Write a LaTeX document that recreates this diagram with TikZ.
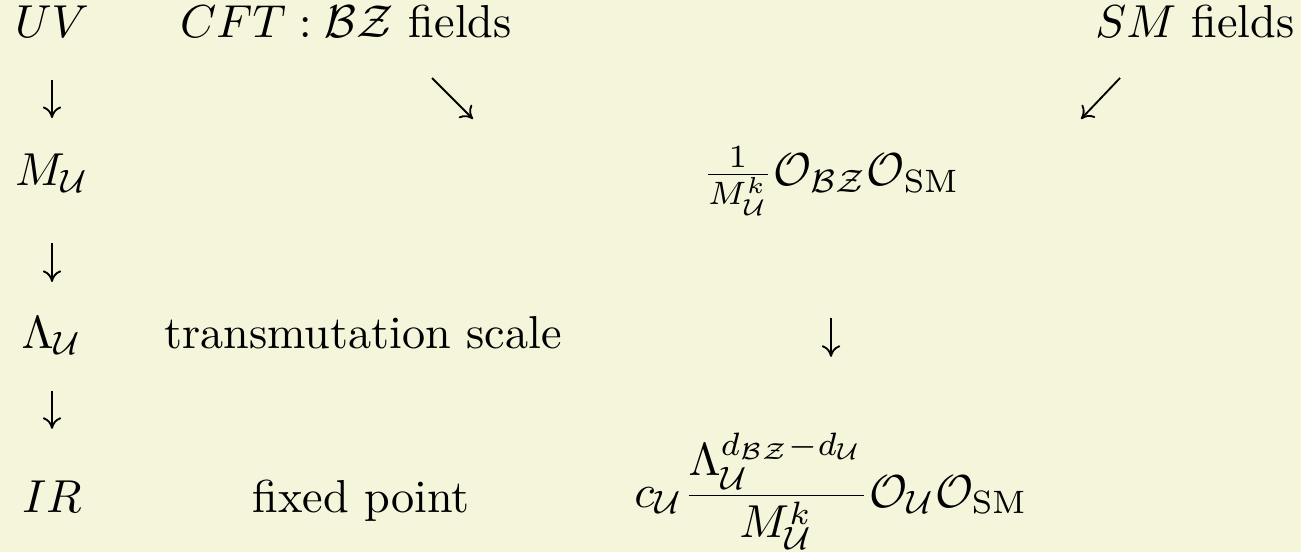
\documentclass[tikz,border=0pt]{standalone}
\usepackage{amsmath,amssymb,mathtools}
\usetikzlibrary{arrows.meta}
\definecolor{bgcream}{RGB}{245,245,220}

\begin{document}
\begin{tikzpicture}[
    x=0.21645pt, y=-0.21645pt,
    lbl/.style={anchor=base, inner sep=0pt},
    arr/.style={-{To[length=2.5pt, width=4pt]}, line width=0.4pt},
    every node/.style={font=\normalsize}
]

% Background
\fill[bgcream] (0,0) rectangle (1301,552);
\useasboundingbox (0,0) rectangle (1301,552);

% Scales
\node[lbl] (uv)  at (52,38)  {$UV$};
\node[lbl] (mu)  at (52,186) {$M_{\mathcal{U}}$};
\node[lbl] (lam) at (52,348) {$\Lambda_{\mathcal{U}}$};
\node[lbl] (ir)  at (52,512) {$IR$};

% Descriptions
\node[lbl] (cft)   at (346,38)  {$CFT:\mathcal{BZ}$ fields};
\node[lbl] (smf)   at (1195,38) {$SM$ fields};
\node[lbl] (trans) at (363,348) {transmutation scale};
\node[lbl] (fixpt) at (361,512) {fixed point};

% Operators
\node[lbl] (opuv) at (831,186) {$\frac{1}{M_{\mathcal{U}}^k}\mathcal{O}_{\mathcal{BZ}}\mathcal{O}_{\rm SM}$};
\node[lbl] (opir) at (831,507) {$\displaystyle c_{\mathcal{U}}\frac{\raisebox{0pt}[0pt][0pt]{$\displaystyle\Lambda_{\mathcal{U}}^{d_{\mathcal{BZ}}-d_{\mathcal{U}}}$}}{\raisebox{1.2pt}[0pt][0pt]{$\cramped[\displaystyle]{M^k_{\raisebox{0pt}[0pt][0pt]{$\scriptstyle\mathcal{U}$}}}$}}\mathcal{O}_{\mathcal{U}}\mathcal{O}_{\rm SM}$};

% Arrow ends for the couplings
\coordinate (bzfrom) at (432,78);
\coordinate (bzto)   at (473,119);
\coordinate (smfrom) at (1120,78);
\coordinate (smto)   at (1081,119);

% Arrows
\draw[arr, shorten <=9.1pt, shorten >=14.7pt] (uv.base) -- (mu.base);
\draw[arr, shorten <=12.3pt, shorten >=14.3pt] (mu.base) -- (lam.base);
\draw[arr, shorten <=9.3pt, shorten >=18pt] (lam.base) -- (ir.base);
\draw[arr, shorten <=28.6pt, shorten >=32.5pt] (opuv.base) -- (opir.base);
\draw[arr] (bzfrom) -- (bzto);
\draw[arr] (smfrom) -- (smto);

\end{tikzpicture}
\end{document}
